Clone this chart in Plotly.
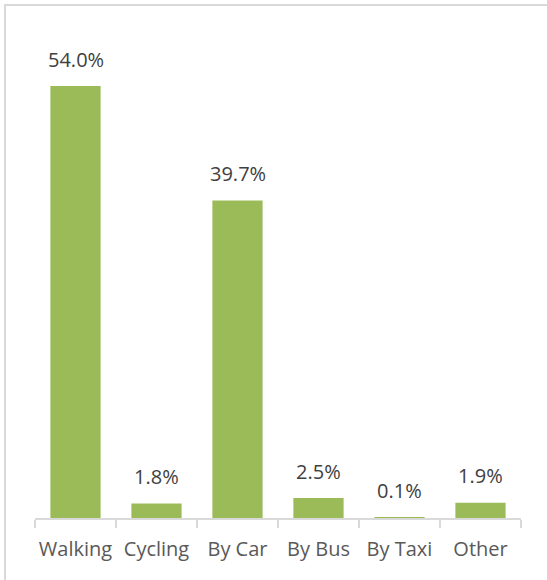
import plotly.graph_objects as go

modes = ["Walking", "Cycling", "By Car", "By Bus", "By Taxi", "Other"]
shares = [54.0, 1.8, 39.7, 2.5, 0.1, 1.9]
labels = ["54.0%", "1.8%", "39.7%", "2.5%", "0.1%", "1.9%"]

bar_color = "#9BBB59"
font_family = "Open Sans, Noto Sans, sans-serif"

fig = go.Figure(
    go.Bar(
        x=modes,
        y=shares,
        marker=dict(color=bar_color, line=dict(width=0)),
        hoverinfo="skip",
    )
)

# value labels floating above each bar
for m, v, t in zip(modes, shares, labels):
    fig.add_annotation(
        x=m, y=v, text=t, showarrow=False,
        yanchor="middle", yshift=27,
        font=dict(family=font_family, size=20, color="#404040"),
    )

fig.update_layout(
    width=547, height=580,
    margin=dict(l=35, r=26, t=38, b=62, autoexpand=False),
    paper_bgcolor="white", plot_bgcolor="white",
    bargap=0.38,
    showlegend=False,
    xaxis=dict(
        showline=True, linecolor="#D9D9D9", linewidth=2,
        ticks="outside", tickson="boundaries", ticklen=8, tickwidth=2,
        tickcolor="#D9D9D9",
        tickangle=0, automargin=False,
        ticklabelstandoff=12,
        tickfont=dict(family=font_family, size=20, color="#595959"),
        showgrid=False, zeroline=False,
    ),
    yaxis=dict(
        range=[0, 60], visible=False, showgrid=False, zeroline=False,
    ),
    shapes=[
        dict(
            type="rect", xref="paper", yref="paper",
            x0=-0.0617, x1=1.2, y0=-0.3, y1=1.0688,
            line=dict(color="#D9D9D9", width=2), fillcolor="rgba(0,0,0,0)",
            layer="below",
        )
    ],
)

fig.write_html("out.html")
